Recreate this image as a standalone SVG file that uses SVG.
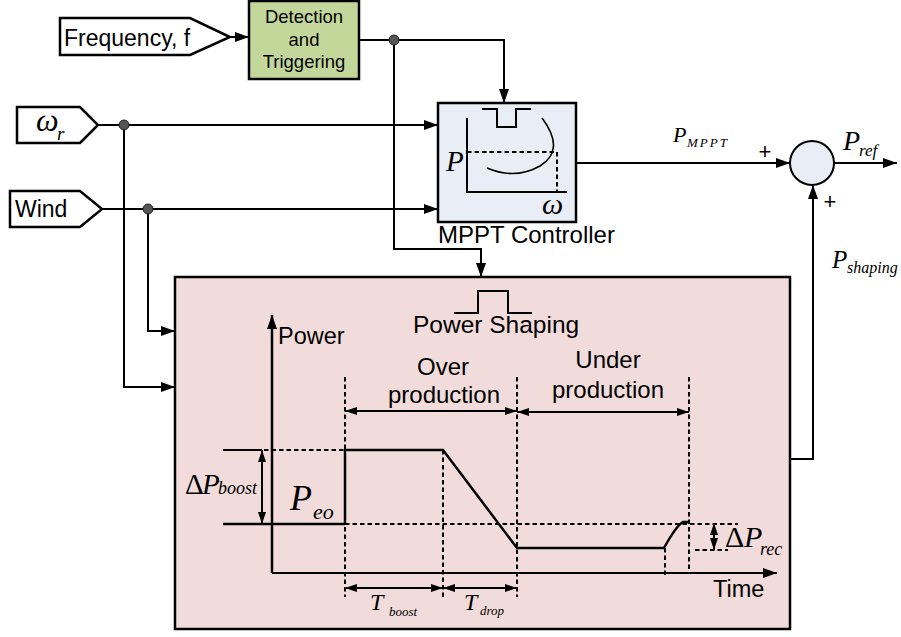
<svg xmlns="http://www.w3.org/2000/svg" width="901" height="637" viewBox="0 0 901 637">
<defs>
<marker id="arr" viewBox="0 0 14 10" refX="14" refY="5" markerWidth="14" markerHeight="10" markerUnits="userSpaceOnUse" orient="auto-start-reverse"><path d="M0 0 L14 5 L0 10 Z" fill="#000"/></marker>
<marker id="sarr" viewBox="0 0 12 8" refX="12" refY="4" markerWidth="12" markerHeight="8" markerUnits="userSpaceOnUse" orient="auto-start-reverse"><path d="M0 0 L12 4 L0 8 Z" fill="#000"/></marker>
<style>
.ln{fill:none;stroke:#000;stroke-width:2}
.tr{fill:none;stroke:#000;stroke-width:2.5}
.ds{fill:none;stroke:#000;stroke-width:2;stroke-dasharray:4.5 3}
.a{marker-end:url(#arr)}
.d{marker-start:url(#sarr);marker-end:url(#sarr)}
.box{stroke:#000;stroke-width:2.5}
.dot{fill:#555;stroke:#222;stroke-width:1}
.sans{font-family:"Liberation Sans",Arial,sans-serif;fill:#000}
.ser{font-family:"Liberation Serif","Times New Roman",serif;fill:#000}
.it{font-style:italic}
</style>
</defs>

<g id="freq">
<path d="M60 18 H190 L230 37 L190 55 H60 Z" fill="#fff" stroke="#000" stroke-width="2.5"/>
<text class="sans" x="64" y="46" font-size="23">Frequency, f</text>
</g>
<g id="omega">
<path d="M17 107 H80 L98 125 L80 143 H17 Z" fill="#fff" stroke="#000" stroke-width="2.5"/>
<text class="ser it" x="36" y="131" font-size="32">ω</text>
<text class="ser it" x="57" y="140" font-size="19">r</text>
</g>
<g id="wind">
<path d="M10 191 H80 L102 209 L80 227 H10 Z" fill="#fff" stroke="#000" stroke-width="2.5"/>
<text class="sans" x="15" y="217" font-size="23">Wind</text>
</g>

<g id="detection">
<rect class="box" x="249" y="1" width="110" height="78" fill="#c4d79b"/>
<text class="sans" font-size="18.5" text-anchor="middle"><tspan x="304" y="23">Detection</tspan><tspan x="304" y="46">and</tspan><tspan x="304" y="68">Triggering</tspan></text>
</g>

<g id="mppt">
<rect class="box" x="438" y="103" width="138" height="119" fill="#e9eef6"/>
<path class="ln" d="M467 118 V192 H567"/>
<path class="ln" d="M482 109 H497 V127 H516 V109 H531"/>
<path d="M542 118 Q566 150 540 166 Q515 180 487 168" fill="none" stroke="#000" stroke-width="1.6"/>
<path class="ds" d="M467 152 H557 V192"/>
<text class="ser it" x="446" y="171" font-size="29">P</text>
<text class="ser it" x="542" y="214" font-size="30">ω</text>
<text class="sans" x="438" y="243" font-size="24">MPPT Controller</text>
</g>

<g id="sum">
<circle cx="812" cy="163" r="22" fill="#e9eef6" stroke="#000" stroke-width="2"/>
<text class="sans" x="765" y="159" font-size="22" text-anchor="middle">+</text>
<text class="sans" x="830" y="209" font-size="22" text-anchor="middle">+</text>
</g>

<g id="connectors">
<path class="ln a" d="M230 37 H249"/>
<path class="ln a" d="M359 40 H504 V103"/>
<path class="ln a" d="M394 40 V249 H481 V277"/>
<path class="ln a" d="M98 125 H438"/>
<path class="ln a" d="M124 125 V387 H175"/>
<path class="ln a" d="M102 209 H438"/>
<path class="ln a" d="M148 209 V331 H175"/>
<path class="ln a" d="M576 163 H790"/>
<path class="ln a" d="M834 163 H897"/>
<path class="ln a" d="M790 459 H813 V185"/>
<circle class="dot" cx="394" cy="40" r="5"/>
<circle class="dot" cx="124" cy="125" r="5"/>
<circle class="dot" cx="148" cy="209" r="5"/>
</g>

<g id="labels">
<text class="ser it" x="673" y="142" font-size="22">P</text>
<text class="ser it" x="687" y="147" font-size="13" letter-spacing="2">MPPT</text>
<text class="ser it" x="843" y="150" font-size="28">P</text>
<text class="ser it" x="859" y="156" font-size="17">ref</text>
<text class="ser it" x="832" y="268" font-size="25">P</text>
<text class="ser it" x="847" y="273" font-size="16">shaping</text>
</g>

<g id="power-shaping">
<rect class="box" x="175" y="277" width="615" height="352" fill="#f2dcdb"/>
<path class="ln" d="M454 313 H478 V291 H508 V313 H532"/>
<text class="sans" x="413" y="333" font-size="24.5">Power Shaping</text>
<path class="tr a" d="M272 573 V315"/>
<path class="ln a" d="M272 573 H777"/>
<text class="sans" x="278" y="344" font-size="23.5">Power</text>
<text class="sans" x="713" y="597" font-size="23.5">Time</text>
<text class="sans" x="443" y="375" font-size="24" text-anchor="middle">Over</text>
<text class="sans" x="444" y="403" font-size="24" text-anchor="middle">production</text>
<text class="sans" x="608" y="368" font-size="24" text-anchor="middle">Under</text>
<text class="sans" x="608" y="398" font-size="24" text-anchor="middle">production</text>
<path class="ds" d="M345 377 V597 M443 450 V597 M517 377 V597 M689 377 V573 M665 548 V576"/>
<path class="ln" d="M223 450 H262"/>
<path class="ds" d="M264 450 H345"/>
<path class="tr" d="M223 524 H345"/>
<path class="ds" d="M345 524 H738"/>
<path class="ds" d="M695 550 H728"/>
<path class="tr" d="M345 524 V450 H443 L517 548 H664 Q676 526 683 522 H690"/>
<path class="ln d" d="M262 450 V524"/>
<path class="ln d" d="M345 411 H517"/>
<path class="ln d" d="M517 412 H689"/>
<path class="ln d" d="M345 588 H443"/>
<path class="ln d" d="M443 588 H517"/>
<path class="ln d" d="M714 523 V550"/>
<text class="ser" x="185" y="494" font-size="29">Δ</text>
<text class="ser it" x="202" y="494" font-size="29">P</text>
<text class="ser it" x="218" y="494" font-size="18">boost</text>
<text class="ser it" x="290" y="510" font-size="36">P</text>
<text class="ser it" x="313" y="519" font-size="22">eo</text>
<text class="ser" x="725" y="547" font-size="30">Δ</text>
<text class="ser it" x="744" y="547" font-size="30">P</text>
<text class="ser it" x="760" y="555" font-size="18">rec</text>
<text class="ser it" x="370" y="610" font-size="24">T</text>
<text class="ser it" x="389" y="616" font-size="13">boost</text>
<text class="ser it" x="464" y="610" font-size="24">T</text>
<text class="ser it" x="480" y="615" font-size="13">drop</text>
</g>
</svg>
